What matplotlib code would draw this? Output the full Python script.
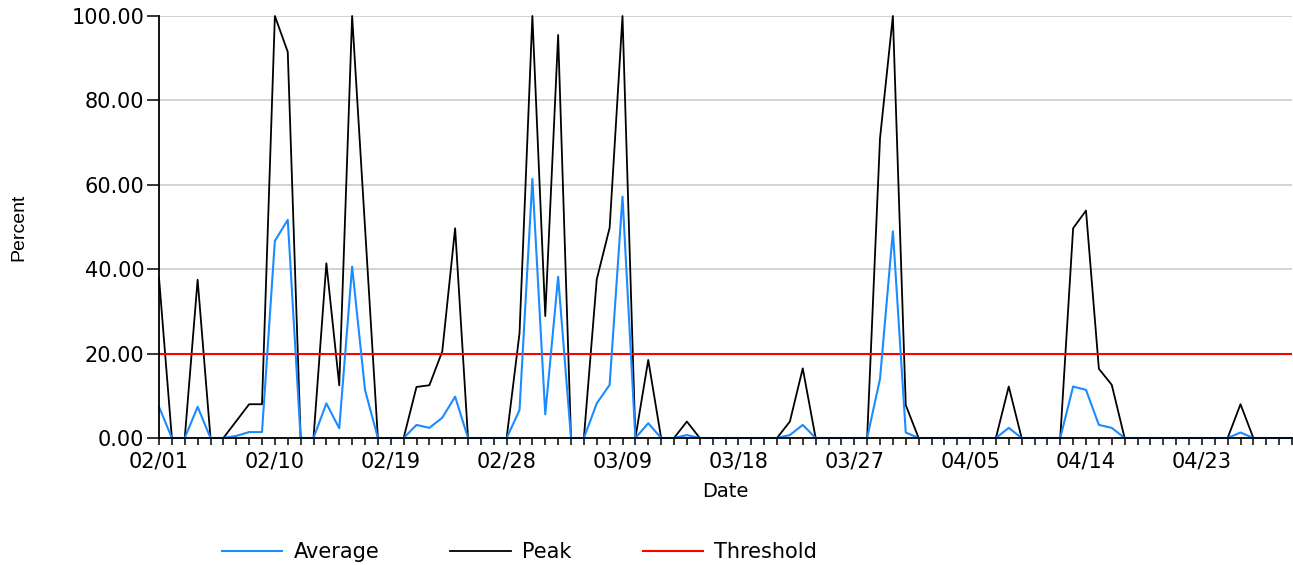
import numpy as np
import pandas as pd
import matplotlib
matplotlib.use("Agg")
import matplotlib.pyplot as plt
import matplotlib.dates as mdates

# Daily values, 02/01 .. 04/30
dates = pd.date_range("2023-02-01", "2023-04-30", freq="D")

peak = [
    38, 0, 0, 37.5, 0, 0, 4, 8, 8, 100,
    91.5, 0, 0, 41.4, 12.5, 100, 50, 0, 0, 0,
    12.1, 12.5, 20.5, 49.7, 0, 0, 0, 0, 24.8, 100,
    28.9, 95.5, 0, 0, 37.6, 49.8, 100, 0, 18.5, 0,
    0, 3.9, 0, 0, 0, 0, 0, 0, 0, 3.9,
    16.5, 0, 0, 0, 0, 0, 71, 100, 7.8, 0,
    0, 0, 0, 0, 0, 0, 12.2, 0, 0, 0,
    0, 49.7, 53.9, 16.4, 12.6, 0, 0, 0, 0, 0,
    0, 0, 0, 0, 8.0, 0, 0, 0, 0,
]

average = [
    7.4, 0, 0, 7.4, 0, 0, 0.5, 1.4, 1.4, 46.7,
    51.7, 0, 0, 8.2, 2.3, 40.6, 11.4, 0, 0, 0,
    3.1, 2.4, 4.8, 9.8, 0, 0, 0, 0, 6.6, 61.4,
    5.6, 38.2, 0, 0, 8.2, 12.6, 57.2, 0, 3.5, 0,
    0, 0.7, 0, 0, 0, 0, 0, 0, 0, 0.7,
    3.1, 0, 0, 0, 0, 0, 14.0, 49.0, 1.3, 0,
    0, 0, 0, 0, 0, 0, 2.4, 0, 0, 0,
    0, 12.2, 11.4, 3.1, 2.4, 0, 0, 0, 0, 0,
    0, 0, 0, 0, 1.3, 0, 0, 0, 0,
]

threshold = 20
y_ticks = [0, 20, 40, 60, 80, 100]

plt.rcParams["font.family"] = ["DejaVu Sans"]

fig = plt.figure(figsize=(12.93, 5.65), dpi=100)
ax = fig.add_axes([0.12297, 0.22478, 0.87626, 0.74690])

ax.plot(dates, peak, color="black", linewidth=1.3, label="Peak", clip_on=False, zorder=3)
ax.axhline(threshold, color="#ff0000", linewidth=1.5, label="Threshold", zorder=4)
ax.plot(dates, average, color="#1a8cff", linewidth=1.5, label="Average", clip_on=False, zorder=5)

ax.set_xlim(dates[0], dates[-1])
ax.set_ylim(0, 100)

# axes / grid
for s in ["top", "right"]:
    ax.spines[s].set_visible(False)
for s in ["left", "bottom"]:
    ax.spines[s].set_linewidth(1.3)
    ax.spines[s].set_zorder(6)
ax.set_yticks(y_ticks)
ax.set_yticklabels([f"{v:.2f}" for v in y_ticks])
ax.yaxis.grid(True, color="#cccccc", linewidth=1.2)
ax.set_axisbelow(True)

ax.set_xticks(dates[::9])
ax.set_xticks(dates, minor=True)
ax.xaxis.set_major_formatter(mdates.DateFormatter("%m/%d"))
ax.tick_params(axis="x", which="both", direction="out", length=5, width=1.1, pad=5, labelsize=15)
ax.tick_params(axis="y", direction="out", length=8.5, width=1.1, pad=2, labelsize=15)

ax.set_xlabel("Date", fontsize=14, va="center")
ax.xaxis.set_label_coords(0.5, -0.1256)
ax.set_ylabel("Percent", fontsize=14, va="center", family=["Liberation Sans"])
ax.yaxis.set_label_coords(-0.1235, 0.5)

h, l = ax.get_legend_handles_labels()
order = [l.index("Average"), l.index("Peak"), l.index("Threshold")]
fig.legend([h[i] for i in order], [l[i] for i in order], loc="center left",
           bbox_to_anchor=(0.1717, 0.023), ncol=3, frameon=False, fontsize=15,
           borderpad=0, borderaxespad=0, handlelength=2.9, handletextpad=0.55,
           columnspacing=3.4)

fig.savefig("out.png", dpi=100)
